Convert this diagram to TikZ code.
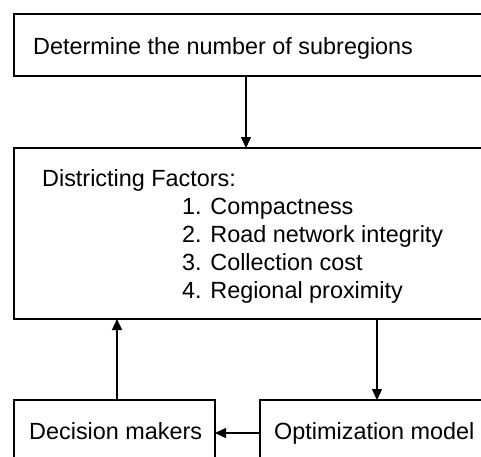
\documentclass[tikz,border=0pt]{standalone}
\usepackage{fontspec}
\setmainfont{Liberation Sans}
\usetikzlibrary{arrows.meta}
\begin{document}
\begin{tikzpicture}[x=1pt,y=-1pt,
  box/.style={draw, line width=1.4pt, inner sep=0pt, outer sep=0pt, anchor=north west},
  lbl/.style={anchor=base west, inner sep=0pt, font=\fontsize{23.4}{28}\selectfont},
  arr/.style={line width=1.4pt, -{Triangle[length=11pt,width=10pt]}}]
\useasboundingbox (0,0) rectangle (481,456);
\clip (0,0) rectangle (481,456);
\fill[white] (0,0) rectangle (481,456);
% boxes
\node[box, minimum width=500pt, minimum height=62pt] (top) at (14,14) {};
\node[box, minimum width=500pt, minimum height=171pt] (mid) at (14,148) {};
\node[box, minimum width=201pt, minimum height=80pt] (dec) at (14,400) {};
\node[box, minimum width=300pt, minimum height=80pt] (opt) at (260,400) {};
% texts
\node[lbl] (ttop) at (33,54) {Determine the number of subregions};
\node[lbl] (tf) at (42,186) {Districting Factors:};
\node[lbl] (t1) at (182,214) {1. Compactness};
\node[lbl] (t2) at (182,242) {2. Road network integrity};
\node[lbl] (t3) at (182,270) {3. Collection cost};
\node[lbl] (t4) at (182,298) {4. Regional proximity};
\node[lbl] (tdec) at (29,439) {Decision makers};
\node[lbl] (topt) at (274,439) {Optimization model};
% connector guides
\coordinate (xa) at (246,0);
\coordinate (xb) at (377,0);
\coordinate (xc) at (117,0);
\coordinate (yd) at (0,433);
% connectors
\draw[arr] (xa |- top.south) -- (xa |- mid.north);
\draw[arr] (xb |- mid.south) -- (xb |- opt.north);
\draw[arr] (xc |- dec.north) -- (xc |- mid.south);
\draw[arr] (opt.west |- yd) -- (dec.east |- yd);
\end{tikzpicture}
\end{document}
